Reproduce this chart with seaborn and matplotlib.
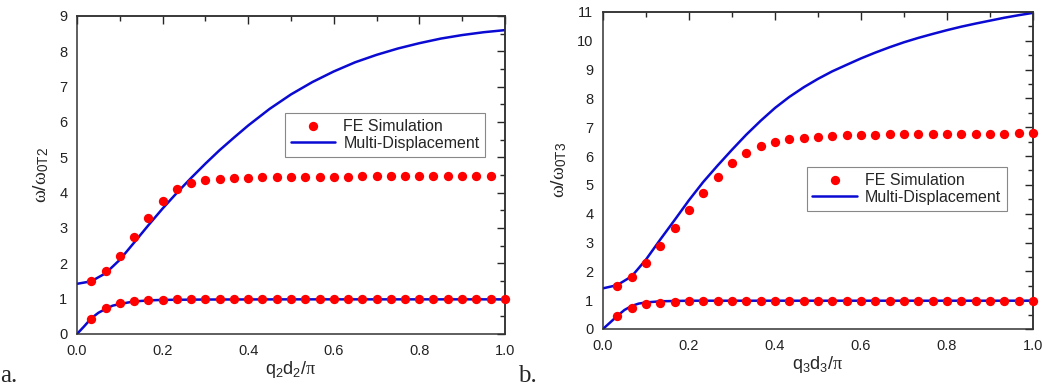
import numpy as np
import pandas as pd
import seaborn as sns
import matplotlib.pyplot as plt
from matplotlib.ticker import MultipleLocator

# ---- data ----
fe_x = [0.033, 0.067, 0.100, 0.133, 0.167, 0.200, 0.233, 0.267, 0.300, 0.333,
        0.367, 0.400, 0.433, 0.467, 0.500, 0.533, 0.567, 0.600, 0.633, 0.667,
        0.700, 0.733, 0.767, 0.800, 0.833, 0.867, 0.900, 0.933, 0.967, 1.000]

# panel a
a_fe_upper = [1.50, 1.78, 2.22, 2.75, 3.28, 3.77, 4.10, 4.27, 4.35, 4.39,
              4.41, 4.42, 4.43, 4.44, 4.44, 4.45, 4.45, 4.45, 4.45, 4.46,
              4.46, 4.46, 4.46, 4.46, 4.46, 4.46, 4.46, 4.46, 4.46]
a_fe_lower = [0.43, 0.73, 0.87, 0.93, 0.96, 0.97, 0.98, 0.99, 0.99, 0.99,
              1.00, 1.00, 1.00, 1.00, 1.00, 1.00, 1.00, 1.00, 1.00, 1.00,
              1.00, 1.00, 1.00, 1.00, 1.00, 1.00, 1.00, 1.00, 1.00, 1.00]
a_line_upper_x = [0, 0.033, 0.067, 0.1, 0.133, 0.167, 0.2, 0.233, 0.267, 0.3,
                  0.333, 0.367, 0.4, 0.45, 0.5, 0.55, 0.6, 0.65, 0.7, 0.75,
                  0.8, 0.85, 0.9, 0.95, 1.0]
a_line_upper = [1.42, 1.49, 1.72, 2.10, 2.58, 3.08, 3.55, 3.99, 4.42, 4.82,
                5.20, 5.56, 5.90, 6.37, 6.78, 7.13, 7.43, 7.69, 7.90, 8.08,
                8.23, 8.36, 8.46, 8.54, 8.60]
a_line_lower_x = [0, 0.017, 0.033, 0.05, 0.067, 0.083, 0.1, 0.133, 0.167, 0.2,
                  0.3, 0.5, 1.0]
a_line_lower = [0.00, 0.22, 0.44, 0.60, 0.71, 0.80, 0.85, 0.92, 0.95, 0.965,
                0.975, 0.98, 0.98]

# panel b
b_fe_upper = [1.48, 1.79, 2.29, 2.89, 3.50, 4.12, 4.72, 5.27, 5.76, 6.12,
              6.36, 6.50, 6.59, 6.64, 6.67, 6.70, 6.72, 6.73, 6.74, 6.75,
              6.75, 6.76, 6.76, 6.77, 6.77, 6.78, 6.78, 6.78, 6.79, 6.79]
b_fe_lower = [0.44, 0.73, 0.86, 0.91, 0.94, 0.96, 0.97, 0.97, 0.98, 0.98,
              0.98, 0.98, 0.98, 0.98, 0.98, 0.98, 0.98, 0.98, 0.98, 0.98,
              0.98, 0.98, 0.98, 0.98, 0.98, 0.98, 0.98, 0.98, 0.98, 0.98]
b_line_upper_x = [0, 0.033, 0.067, 0.1, 0.133, 0.167, 0.2, 0.233, 0.267, 0.3,
                  0.333, 0.367, 0.4, 0.433, 0.467, 0.5, 0.533, 0.567, 0.6,
                  0.633, 0.667, 0.7, 0.733, 0.767, 0.8, 0.833, 0.867, 0.9,
                  0.933, 0.967, 1.0]
b_line_upper = [1.41, 1.52, 1.83, 2.41, 3.10, 3.79, 4.47, 5.10, 5.68, 6.22,
                6.74, 7.23, 7.67, 8.05, 8.39, 8.68, 8.94, 9.17, 9.39, 9.59,
                9.78, 9.95, 10.10, 10.24, 10.37, 10.49, 10.60, 10.70, 10.80,
                10.89, 10.97]
b_line_lower_x = [0, 0.017, 0.033, 0.05, 0.067, 0.083, 0.1, 0.133, 0.167, 0.2, 1.0]
b_line_lower = [0.00, 0.23, 0.45, 0.66, 0.80, 0.88, 0.92, 0.96, 0.97, 0.98, 0.98]

sns.set_style("white")
plt.rcParams['font.family'] = ['Liberation Sans', 'DejaVu Sans']
plt.rcParams['mathtext.fontset'] = 'custom'
plt.rcParams['mathtext.rm'] = 'Liberation Sans'
plt.rcParams['mathtext.it'] = 'Liberation Serif'
plt.rcParams['mathtext.sf'] = 'Liberation Sans'

RED = '#ff0000'
BLUE = '#0a0ad2'

fig = plt.figure(figsize=(10.42, 3.87), dpi=100)
ax_a = fig.add_axes([0.0739, 0.137, 0.4107, 0.8217])
ax_b = fig.add_axes([0.5787, 0.150, 0.4127, 0.819])


def draw_panel(ax, fe_up, fe_low, lx_up, ly_up, lx_low, ly_low, ymax, sub, leg_anchor):
    fe_up_df = pd.DataFrame({'x': fe_x[:len(fe_up)], 'y': fe_up})
    fe_low_df = pd.DataFrame({'x': fe_x[:len(fe_low)], 'y': fe_low})
    sns.lineplot(x=lx_low, y=ly_low, ax=ax, color=BLUE, lw=1.8, zorder=2)
    sns.lineplot(x=lx_up, y=ly_up, ax=ax, color=BLUE, lw=1.8, zorder=2,
                 label='Multi-Displacement')
    sns.scatterplot(data=fe_low_df, x='x', y='y', ax=ax, color=RED, s=45,
                    linewidth=0, zorder=3, clip_on=False)
    sns.scatterplot(data=fe_up_df, x='x', y='y', ax=ax, color=RED, s=45,
                    linewidth=0, zorder=3, clip_on=False, label='FE Simulation')

    ax.set_xlim(0, 1.0)
    ax.set_ylim(0, ymax)
    ax.xaxis.set_major_locator(MultipleLocator(0.2))
    ax.xaxis.set_minor_locator(MultipleLocator(0.1))
    ax.yaxis.set_major_locator(MultipleLocator(1))
    ax.yaxis.set_minor_locator(MultipleLocator(0.5))
    ax.xaxis.set_major_formatter(plt.FormatStrFormatter('%.1f'))
    ax.tick_params(which='major', direction='out', length=5, width=1,
                   labelsize=10.5, colors='#222222', pad=2)
    ax.tick_params(which='minor', direction='out', length=3, width=1)

    # top / right ticks point inward
    top = ax.secondary_xaxis('top')
    top.xaxis.set_major_locator(MultipleLocator(0.2))
    top.xaxis.set_minor_locator(MultipleLocator(0.1))
    top.tick_params(which='major', direction='in', length=6, width=1, labeltop=False)
    top.tick_params(which='minor', direction='in', length=3.5, width=1)
    right = ax.secondary_yaxis('right')
    right.yaxis.set_major_locator(MultipleLocator(1))
    right.yaxis.set_minor_locator(MultipleLocator(0.5))
    right.tick_params(which='major', direction='in', length=6, width=1, labelright=False)
    right.tick_params(which='minor', direction='in', length=3.5, width=1)
    for sp in list(ax.spines.values()) + [top.spines['top'], right.spines['right']]:
        sp.set_color('#333333')
        sp.set_linewidth(1.1)

    ax.set_xlabel(r'$\mathrm{q_%sd_%s/}\pi$' % (sub, sub), fontsize=13, labelpad=1)
    ax.set_ylabel(r'$\omega/\omega_{\mathrm{0T%s}}$' % sub, fontsize=14, labelpad=6)

    handles, labels = ax.get_legend_handles_labels()
    order = [labels.index('FE Simulation'), labels.index('Multi-Displacement')]
    leg = ax.legend([handles[i] for i in order], [labels[i] for i in order],
                    loc='upper left', bbox_to_anchor=leg_anchor, fontsize=11.5,
                    frameon=True, fancybox=False, framealpha=1, edgecolor='#888888',
                    borderpad=0.35, handlelength=2.8, handletextpad=0.5,
                    labelspacing=0.15, borderaxespad=0)
    leg.get_frame().set_linewidth(0.8)


draw_panel(ax_a, a_fe_upper, a_fe_lower, a_line_upper_x, a_line_upper,
           a_line_lower_x, a_line_lower, 9, '2', (0.486, 0.695))
draw_panel(ax_b, b_fe_upper, b_fe_lower, b_line_upper_x, b_line_upper,
           b_line_lower_x, b_line_lower, 11, '3', (0.474, 0.511))

fig.text(0.0, 0.014, 'a.', family='Liberation Serif', fontsize=18)
fig.text(0.497, 0.014, 'b.', family='Liberation Serif', fontsize=18)

fig.savefig('out.png', dpi=100)
